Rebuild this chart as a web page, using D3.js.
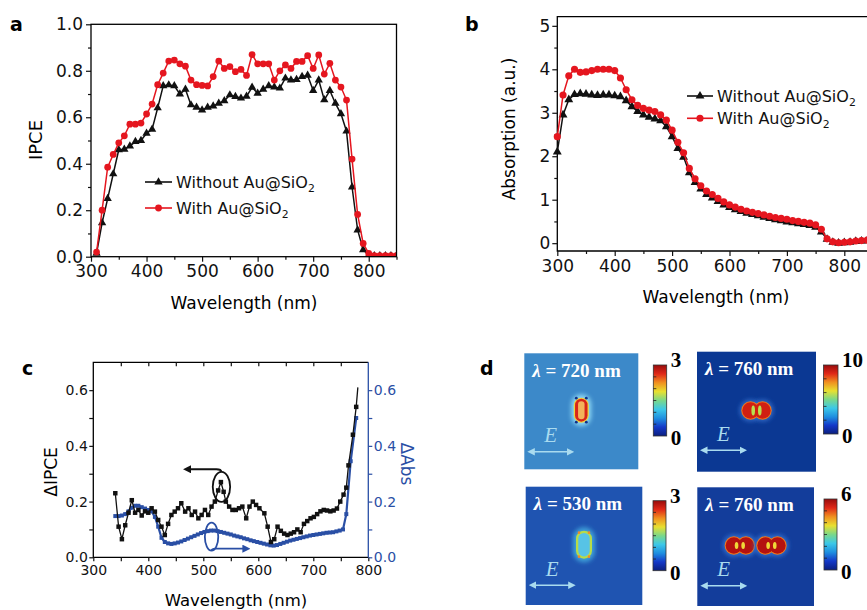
<!DOCTYPE html>
<html>
<head>
<meta charset="utf-8">
<script src="https://cdn.jsdelivr.net/npm/d3@7"></script>
<style>
body{margin:0;background:#fff}
</style>
</head>
<body>
<svg id="fig" width="867" height="610" font-family="DejaVu Sans, sans-serif"></svg>
<script>
// ---- panel a : IPCE ----
const waveA = [310,320,330,340,350,360,370,380,390,400,410,420,430,440,450,460,470,480,490,500,510,520,530,540,550,560,570,580,590,600,610,620,630,640,650,660,670,680,690,700,710,720,730,740,750,760,770,780,790,800,810,820,830,840,850];
const ipceWithout = [0.014,0.146,0.25,0.356,0.46,0.462,0.476,0.495,0.50,0.531,0.548,0.64,0.735,0.739,0.735,0.70,0.72,0.653,0.643,0.631,0.643,0.648,0.66,0.671,0.696,0.689,0.682,0.69,0.729,0.703,0.72,0.735,0.73,0.725,0.768,0.76,0.762,0.775,0.78,0.715,0.76,0.675,0.715,0.66,0.615,0.54,0.30,0.115,0.03,0.007,0.004,0.004,0.004,0.004,0.004];
const ipceWith = [0.02,0.20,0.385,0.44,0.49,0.52,0.57,0.57,0.575,0.614,0.657,0.74,0.79,0.842,0.846,0.83,0.82,0.76,0.74,0.737,0.735,0.775,0.842,0.81,0.818,0.796,0.806,0.78,0.87,0.83,0.83,0.83,0.76,0.80,0.825,0.81,0.84,0.84,0.865,0.81,0.868,0.786,0.832,0.76,0.73,0.674,0.42,0.182,0.057,0.014,0.005,0.005,0.005,0.005,0.005];

// ---- panel b : absorption ----
const waveB = [300,310,320,330,340,350,360,370,380,390,400,410,420,430,440,450,460,470,480,490,500,510,520,530,540,550,560,570,580,590,600,610,620,630,640,650,660,670,680,690,700,710,720,730,740,750,760,770,780,790,800,810,820,830,840];
const absWithout = [2.1,2.95,3.3,3.42,3.44,3.43,3.41,3.40,3.41,3.41,3.39,3.37,3.28,3.14,3.03,2.95,2.9,2.86,2.82,2.68,2.45,2.18,1.98,1.62,1.4,1.25,1.12,1.04,0.96,0.88,0.82,0.77,0.73,0.69,0.66,0.63,0.60,0.57,0.54,0.52,0.49,0.47,0.45,0.43,0.41,0.37,0.26,0.09,0.02,0.0,0.01,0.02,0.04,0.05,0.06];
const absWith = [2.45,3.41,3.85,4.0,3.93,3.94,3.97,4.0,4.0,4.0,3.97,3.8,3.53,3.3,3.17,3.1,3.06,3.03,2.95,2.83,2.6,2.32,2.08,1.72,1.48,1.32,1.2,1.12,1.03,0.95,0.88,0.83,0.78,0.74,0.71,0.68,0.65,0.62,0.59,0.57,0.55,0.52,0.50,0.48,0.46,0.42,0.32,0.1,0.03,0.01,0.02,0.03,0.05,0.06,0.07];

// ---- panel c : differences ----
const waveIpceC = [340,346,352,358,364,370,376,382,388,394,400,406,412,418,424,430,436,442,448,454,460,467,473,479,485,491,497,503,509,515,521,527,532,537,541,547,553,559,565,571,578,584,590,596,602,611,617,623,629,635,641,647,653,659,665,671,677,683,689,695,701,707,713,719,725,731,737,743,749,755,760,764,772,778,781];
const deltaIpce = [0.23,0.11,0.065,0.115,0.16,0.205,0.16,0.17,0.15,0.165,0.16,0.176,0.164,0.134,0.11,0.08,0.12,0.152,0.164,0.176,0.194,0.164,0.176,0.152,0.164,0.14,0.152,0.17,0.152,0.182,0.2,0.24,0.27,0.235,0.2,0.182,0.17,0.17,0.176,0.182,0.14,0.182,0.2,0.188,0.176,0.158,0.11,0.055,0.065,0.11,0.095,0.085,0.08,0.085,0.09,0.10,0.09,0.12,0.13,0.14,0.145,0.155,0.165,0.17,0.168,0.165,0.168,0.175,0.2,0.225,0.25,0.33,0.44,0.54,0.61];
const waveAbsC = [340,346,352,358,364,370,376,382,388,394,400,406,412,418,424,430,436,442,448,454,460,466,472,478,484,490,496,502,508,514,520,526,532,538,544,550,556,562,568,574,580,586,592,598,604,610,616,622,628,634,640,646,652,658,664,670,676,682,688,694,700,706,712,718,724,730,736,742,748,754,760,768,778];
const deltaAbs = [0.148,0.148,0.15,0.155,0.165,0.178,0.185,0.185,0.18,0.175,0.17,0.165,0.145,0.11,0.07,0.055,0.05,0.048,0.05,0.053,0.057,0.062,0.067,0.072,0.077,0.082,0.087,0.091,0.094,0.096,0.096,0.094,0.091,0.088,0.085,0.082,0.078,0.075,0.072,0.068,0.065,0.061,0.058,0.055,0.052,0.049,0.046,0.043,0.042,0.044,0.048,0.052,0.056,0.06,0.063,0.066,0.069,0.072,0.075,0.078,0.08,0.082,0.084,0.086,0.088,0.089,0.09,0.093,0.096,0.1,0.155,0.345,0.5];

// ---- panel d : near-field maps ----
const fieldLambda = [720, 760, 530, 760];
const fieldMax = [3, 10, 3, 6];
const fieldShape = ["rod", "dimer", "rod", "twoDimers"];

// tick labels
const ticksA = [0, 0.2, 0.4, 0.6, 0.8, 1.0];
const ticksB = [0, 1, 2, 3, 4, 5];
const ticksC = [0, 0.2, 0.4, 0.6];
const waveTicks = [300, 400, 500, 600, 700, 800];
const legendNames = ["Without Au@SiO", "With Au@SiO"];

const RED = "#e5161f", BLK = "#111", BLUE = "#2a4fa5";
const SERIF = "Liberation Serif, serif";
const svg = d3.select("#fig");
const defs = svg.append("defs");

function zip(xs, ys){ return xs.map((x, i) => [x, ys[i]]); }

//draws one axis and gives it the right look
function drawAxis(parent, gen, tf, color, fs, keepDomain){
    const g = parent.append("g").attr("transform", tf).call(gen);
    g.attr("font-size", fs).attr("font-family", "DejaVu Sans, sans-serif").style("color", color);
    g.select(".domain").attr("stroke-width", 1.3);
    if(!keepDomain) g.select(".domain").remove();
    g.selectAll(".tick line").attr("stroke-width", 1.2);
    return g;
}

function series(g, data, x, y, color, symbol, size, lw){
    g.append("path").datum(data)
        .attr("fill", "none").attr("stroke", color).attr("stroke-width", lw)
        .attr("d", d3.line().x(d => x(d[0])).y(d => y(d[1])));
    g.selectAll(null).data(data).enter().append("path")
        .attr("transform", d => "translate(" + x(d[0]) + "," + y(d[1]) + ")")
        .attr("d", d3.symbol().type(symbol).size(size))
        .attr("fill", color);
}

function legendRow(g, x0, x1, yc, color, symbol, size, name, fs){
    g.append("line").attr("x1", x0).attr("x2", x1).attr("y1", yc).attr("y2", yc)
        .attr("stroke", color).attr("stroke-width", 1.6);
    g.append("path").attr("transform", "translate(" + (x0 + x1) / 2 + "," + yc + ")")
        .attr("d", d3.symbol().type(symbol).size(size)).attr("fill", color);
    const t = g.append("text").attr("x", x1 + 4).attr("y", yc + 6).attr("font-size", fs).attr("fill", "#111");
    t.append("tspan").text(name);
    t.append("tspan").attr("font-size", fs * 0.68).attr("dy", 4).text("2");
}

function panelLabel(txt, x, y){
    svg.append("text").attr("x", x).attr("y", y).attr("font-size", 19)
        .attr("font-weight", "bold").attr("fill", "#000").text(txt);
}

// ================= panel a =================
const gA = svg.append("g");
const xA = d3.scaleLinear().domain([300, 850]).range([91, 396.5]);
const yA = d3.scaleLinear().domain([0, 1]).range([256.7, 24.3]);
defs.append("clipPath").attr("id", "clipA").append("rect")
    .attr("x", xA(300)).attr("y", yA(1)).attr("width", xA(850) - xA(300)).attr("height", yA(0) - yA(1));
drawAxis(gA, d3.axisBottom(xA).tickValues(waveTicks).tickSize(5).tickSizeOuter(0).tickPadding(3).tickFormat(d3.format("d")), "translate(0," + yA(0) + ")", "#111", 17);
drawAxis(gA, d3.axisBottom(xA).tickValues([350,450,550,650,750,850]).tickSize(3).tickFormat(""), "translate(0," + yA(0) + ")", "#111", 17);
drawAxis(gA, d3.axisLeft(yA).tickValues(ticksA).tickSize(5).tickSizeOuter(0).tickPadding(3).tickFormat(d3.format(".1f")), "translate(" + xA(300) + ",0)", "#111", 17);
drawAxis(gA, d3.axisLeft(yA).tickValues([0.1,0.3,0.5,0.7,0.9]).tickSize(3).tickFormat(""), "translate(" + xA(300) + ",0)", "#111", 17);
const plotA = gA.append("g").attr("clip-path", "url(#clipA)");
series(plotA, zip(waveA, ipceWithout), xA, yA, BLK, d3.symbolTriangle, 30, 1.5);
series(plotA, zip(waveA, ipceWith), xA, yA, RED, d3.symbolCircle, 36, 1.5);
gA.append("rect").attr("x", xA(300)).attr("y", yA(1)).attr("width", xA(850) - xA(300))
    .attr("height", yA(0) - yA(1)).attr("fill", "none").attr("stroke", "#000").attr("stroke-width", 1.3);
legendRow(gA, 145, 172, 182, BLK, d3.symbolTriangle, 30, legendNames[0], 16);
legendRow(gA, 145, 172, 208, RED, d3.symbolCircle, 36, legendNames[1], 16);
gA.append("text").attr("x", 244).attr("y", 309).attr("text-anchor", "middle").attr("font-size", 17).text("Wavelength (nm)");
gA.append("text").attr("transform", "translate(42,140) rotate(-90)").attr("text-anchor", "middle").attr("font-size", 18).text("IPCE");
panelLabel("a", 10, 30.5);

// ================= panel b =================
const gB = svg.append("g");
const xB = d3.scaleLinear().domain([300, 850]).range([557.3, 873]);
const yB = d3.scaleLinear().domain([-0.18, 5.21]).range([251, 16.7]);
gB.append("path").attr("fill", "none").attr("stroke", "#000").attr("stroke-width", 1.3)
    .attr("d", "M" + xB(850) + "," + yB(5.21) + "H" + xB(300) + "V" + yB(-0.18) + "H" + xB(850));
drawAxis(gB, d3.axisBottom(xB).tickValues(waveTicks).tickSize(5).tickSizeOuter(0).tickPadding(4).tickFormat(d3.format("d")), "translate(0," + yB(-0.18) + ")", "#111", 17);
drawAxis(gB, d3.axisBottom(xB).tickValues([350,450,550,650,750]).tickSize(3).tickFormat(""), "translate(0," + yB(-0.18) + ")", "#111", 17);
drawAxis(gB, d3.axisLeft(yB).tickValues(ticksB).tickSize(5).tickSizeOuter(0).tickPadding(2).tickFormat(d3.format("d")), "translate(" + xB(300) + ",0)", "#111", 17);
drawAxis(gB, d3.axisLeft(yB).tickValues([0.5,1.5,2.5,3.5,4.5]).tickSize(3).tickFormat(""), "translate(" + xB(300) + ",0)", "#111", 17);
series(gB, zip(waveB, absWithout), xB, yB, BLK, d3.symbolTriangle, 34, 1.5);
series(gB, zip(waveB, absWith), xB, yB, RED, d3.symbolCircle, 40, 1.5);
legendRow(gB, 687, 713, 96, BLK, d3.symbolTriangle, 34, legendNames[0], 16);
legendRow(gB, 687, 713, 118.3, RED, d3.symbolCircle, 40, legendNames[1], 16);
gB.append("text").attr("x", 716).attr("y", 302.6).attr("text-anchor", "middle").attr("font-size", 17).text("Wavelength (nm)");
gB.append("text").attr("transform", "translate(515,129) rotate(-90)").attr("text-anchor", "middle").attr("font-size", 17).text("Absorption (a.u.)");
panelLabel("b", 465, 31);

// ================= panel c =================
const gC = svg.append("g");
const xC = d3.scaleLinear().domain([300, 800]).range([93.3, 368.3]);
const yC = d3.scaleLinear().domain([0, 0.7]).range([557.3, 362.3]);
gC.append("path").attr("fill", "none").attr("stroke", "#000").attr("stroke-width", 1.3)
    .attr("d", "M" + xC(800) + "," + yC(0.7) + "H" + xC(300) + "V" + yC(0) + "H" + xC(800));
gC.append("line").attr("x1", xC(800)).attr("x2", xC(800)).attr("y1", yC(0.7)).attr("y2", yC(0))
    .attr("stroke", BLUE).attr("stroke-width", 1.3);
drawAxis(gC, d3.axisBottom(xC).tickValues(waveTicks).tickSize(4).tickSizeOuter(0).tickPadding(4).tickFormat(d3.format("d")), "translate(0," + yC(0) + ")", "#111", 14);
drawAxis(gC, d3.axisBottom(xC).tickValues([350,450,550,650,750]).tickSize(4).tickFormat(""), "translate(0," + yC(0) + ")", "#111", 14);
drawAxis(gC, d3.axisTop(xC).tickValues([350,400,450,500,550,600,650,700,750]).tickSize(-4).tickFormat(""), "translate(0," + yC(0.7) + ")", "#111", 14);
drawAxis(gC, d3.axisLeft(yC).tickValues(ticksC).tickSize(4).tickSizeOuter(0).tickPadding(1.5).tickFormat(d3.format(".1f")), "translate(" + xC(300) + ",0)", "#111", 14);
drawAxis(gC, d3.axisLeft(yC).tickValues([0.1,0.3,0.5]).tickSize(4).tickFormat(""), "translate(" + xC(300) + ",0)", "#111", 14);
drawAxis(gC, d3.axisRight(yC).tickValues(ticksC).tickSize(4).tickSizeOuter(0).tickPadding(1.5).tickFormat(d3.format(".1f")), "translate(" + xC(800) + ",0)", BLUE, 14);
drawAxis(gC, d3.axisRight(yC).tickValues([0.1,0.3,0.5]).tickSize(4).tickFormat(""), "translate(" + xC(800) + ",0)", BLUE, 14);
series(gC, zip(waveAbsC, deltaAbs), xC, yC, BLUE, d3.symbolSquare, 16, 2.2);
// black line ends above the last marker
const ipceC = zip(waveIpceC, deltaIpce);
gC.append("path").datum(ipceC).attr("fill", "none").attr("stroke", BLK).attr("stroke-width", 1.3)
    .attr("d", d3.line().x(d => xC(d[0])).y(d => yC(d[1])));
gC.selectAll(null).data(ipceC.slice(0, -1)).enter().append("path")
    .attr("transform", d => "translate(" + xC(d[0]) + "," + yC(d[1]) + ")")
    .attr("d", d3.symbol().type(d3.symbolSquare).size(20)).attr("fill", BLK);

// arrow heads
[["arrBlack", BLK], ["arrBlue", BLUE]].forEach(([id, c]) => {
    defs.append("marker").attr("id", id).attr("viewBox", "0 0 10 10").attr("refX", 2).attr("refY", 5)
        .attr("markerWidth", 4.5).attr("markerHeight", 4.5).attr("orient", "auto")
        .append("path").attr("d", "M0,0L10,5L0,10z").attr("fill", c);
});
// annotation: which curve goes with which axis
const eBx = xC(533), eBy = yC(0.253);
gC.append("ellipse").attr("cx", eBx).attr("cy", eBy).attr("rx", 8.7).attr("ry", 15)
    .attr("fill", "none").attr("stroke", BLK).attr("stroke-width", 1.8);
gC.append("path").attr("fill", "none").attr("stroke", BLK).attr("stroke-width", 1.8)
    .attr("marker-end", "url(#arrBlack)")
    .attr("d", "M" + eBx + "," + (eBy - 15) + "Q" + (eBx - 0.3) + "," + yC(0.316) + " " + (eBx - 5) + "," + yC(0.316) + "H" + xC(475));
const eLx = xC(515), eLy = yC(0.074);
gC.append("ellipse").attr("cx", eLx).attr("cy", eLy).attr("rx", 6.7).attr("ry", 14)
    .attr("fill", "none").attr("stroke", BLUE).attr("stroke-width", 1.8);
gC.append("path").attr("fill", "none").attr("stroke", BLUE).attr("stroke-width", 1.8)
    .attr("marker-end", "url(#arrBlue)")
    .attr("d", "M" + eLx + "," + (eLy + 14) + "Q" + (eLx + 0.3) + "," + yC(0.031) + " " + (eLx + 4) + "," + yC(0.031) + "H" + xC(574));
gC.append("text").attr("x", 236).attr("y", 606).attr("text-anchor", "middle").attr("font-size", 16.5).text("Wavelength (nm)");
gC.append("text").attr("transform", "translate(57,472) rotate(-90)").attr("text-anchor", "middle").attr("font-size", 17).text("ΔIPCE");
gC.append("text").attr("transform", "translate(401,464) rotate(90)").attr("text-anchor", "middle").attr("font-size", 17).attr("fill", BLUE).text("ΔAbs");
panelLabel("c", 22, 375);

// ================= panel d =================
const gD = svg.append("g");
const jet = ["#0b1f7e","#1438c8","#1f8fe0","#3cc8e8","#7ad88a","#e8e030","#f09020","#e02818","#980c0c"];
const jetGrad = defs.append("linearGradient").attr("id", "jet").attr("x1", 0).attr("y1", 1).attr("x2", 0).attr("y2", 0);
jet.forEach((c, i) => jetGrad.append("stop").attr("offset", i / (jet.length - 1)).attr("stop-color", c));
defs.append("filter").attr("id", "soft").attr("x", "-50%").attr("y", "-50%").attr("width", "200%").attr("height", "200%")
    .append("feGaussianBlur").attr("stdDeviation", 2.2);

const boxes = [
    {x: 524.3, y: 353.3, w: 114, h: 116},
    {x: 697, y: 351.7, w: 119, h: 120},
    {x: 525.7, y: 486.7, w: 116.6, h: 118.3},
    {x: 697.3, y: 487.3, w: 116.7, h: 118.7}
];
const bars = [
    {x: 653.3, y: 365, w: 13.4, h: 71},
    {x: 823.5, y: 365, w: 14.5, h: 69},
    {x: 653, y: 500.7, w: 13, h: 70},
    {x: 824, y: 499, w: 13, h: 71}
];
const bgFill = ["#3c89c9", "#0b3893", "#1f54b1", "#133d9b"];
const ELIGHT = "#a9dbef";

defs.append("marker").attr("id", "arrE").attr("viewBox", "0 0 10 10").attr("refX", 2).attr("refY", 5)
    .attr("markerWidth", 5).attr("markerHeight", 5).attr("orient", "auto-start-reverse")
    .append("path").attr("d", "M0,0L10,5L0,10z").attr("fill", ELIGHT);

function rrect(g, cx, cy, w, h, fill, extra){
    const r = g.append("rect").attr("x", cx - w / 2).attr("y", cy - h / 2).attr("width", w).attr("height", h)
        .attr("rx", Math.min(w, h) / 2).attr("fill", fill);
    if(extra) r.attr("filter", extra);
    return r;
}

function dimer(g, cx, cy, hot){
    [-6, 6].forEach(dx => g.append("circle").attr("cx", cx + dx).attr("cy", cy).attr("r", 11)
        .attr("fill", hot ? "#2f6ccc" : "#2e66c4").attr("filter", "url(#soft)"));
    [-6, 6].forEach(dx => g.append("circle").attr("cx", cx + dx).attr("cy", cy).attr("r", 9.2).attr("fill", "#f07a1c"));
    [-6, 6].forEach(dx => g.append("circle").attr("cx", cx + dx).attr("cy", cy).attr("r", 8.2).attr("fill", hot ? "#b41210" : "#d01f12"));
    [-6, 6].forEach(dx => g.append("ellipse").attr("cx", cx + dx * 0.55).attr("cy", cy).attr("rx", 1.8).attr("ry", hot ? 3.5 : 5)
        .attr("fill", hot ? "#f0d838" : "#b8e050"));
}

fieldLambda.forEach((lam, i) => {
    const b = boxes[i], cb = bars[i];
    const g = gD.append("g");
    g.append("rect").attr("x", b.x).attr("y", b.y).attr("width", b.w).attr("height", b.h).attr("fill", bgFill[i]);
    const cx = b.x + b.w / 2, cy = b.y + b.h * 0.49;
    if(fieldShape[i] === "rod" && i === 0){
        rrect(g, cx, cy, 20, 32, "#8ad4f2", "url(#soft)");
        rrect(g, cx, cy, 15, 25, "#f0d43a");
        rrect(g, cx, cy, 12.5, 23, "#d8261a");
        rrect(g, cx, cy, 6.5, 18, "#f3b35a");
        [[-5, -12], [5, -12], [-5, 12], [5, 12]].forEach(p => g.append("circle")
            .attr("cx", cx + p[0]).attr("cy", cy + p[1]).attr("r", 1.4).attr("fill", "#10308a"));
    } else if(fieldShape[i] === "rod"){
        rrect(g, cx, cy, 22, 35, "#3c9ed8", "url(#soft)");
        rrect(g, cx, cy, 16, 28, "#b7dc48");
        rrect(g, cx, cy, 11.5, 23.5, "#57c3e6");
        [[-5, -12], [5, -12], [-5, 12], [5, 12]].forEach(p => g.append("circle")
            .attr("cx", cx + p[0]).attr("cy", cy + p[1]).attr("r", 1.3).attr("fill", "#f08a2a"));
    } else if(fieldShape[i] === "dimer"){
        dimer(g, cx, cy, false);
    } else {
        dimer(g, cx - 15.8, cy, true);
        dimer(g, cx + 15.8, cy, true);
    }
    const t = g.append("text").attr("x", b.x + 8).attr("y", b.y + 23.5).attr("fill", "#fff")
        .attr("font-family", SERIF).attr("font-weight", "bold").attr("font-size", 19);
    t.append("tspan").attr("font-style", "italic").text("λ");
    t.append("tspan").text(" = " + lam + " nm");
    g.append("text").attr("x", b.x + 20).attr("y", b.y + 89).attr("fill", ELIGHT)
        .attr("font-family", SERIF).attr("font-style", "italic").attr("font-size", 21).text("E");
    g.append("line").attr("x1", b.x + 9).attr("x2", b.x + 44).attr("y1", b.y + 98.5).attr("y2", b.y + 98.5)
        .attr("stroke", ELIGHT).attr("stroke-width", 1.5)
        .attr("marker-start", "url(#arrE)").attr("marker-end", "url(#arrE)");
    // colour bar
    g.append("rect").attr("x", cb.x).attr("y", cb.y).attr("width", cb.w).attr("height", cb.h)
        .attr("fill", "url(#jet)").attr("stroke", "#333").attr("stroke-width", 0.8);
    const sc = d3.scaleLinear().domain([0, fieldMax[i]]).range([cb.y + cb.h, cb.y]);
    g.selectAll(null).data(sc.ticks(5).slice(1, -1)).enter().append("line")
        .attr("x1", cb.x).attr("x2", cb.x + 3).attr("y1", d => sc(d)).attr("y2", d => sc(d))
        .attr("stroke", "#222").attr("stroke-width", 0.8);
    g.append("text").attr("x", cb.x + cb.w + 4).attr("y", cb.y + 2)
        .attr("font-family", SERIF).attr("font-weight", "bold").attr("font-size", 21).text(fieldMax[i]);
    g.append("text").attr("x", cb.x + cb.w + 4).attr("y", cb.y + cb.h + 9)
        .attr("font-family", SERIF).attr("font-weight", "bold").attr("font-size", 21).text(0);
});
panelLabel("d", 480, 375);
</script>
</body>
</html>
